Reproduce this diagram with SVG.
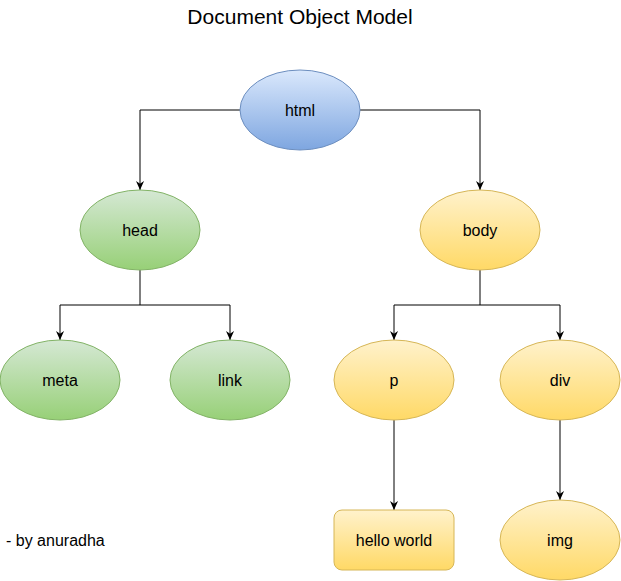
<svg xmlns="http://www.w3.org/2000/svg" width="621" height="581" viewBox="0 0 621 581">
<style>
text{font-family:"Liberation Sans",Arial,sans-serif;fill:#000;}
.lbl{font-size:16px;text-anchor:middle;dominant-baseline:central;}
.blue{fill:url(#gb);stroke:#6c8ebf;stroke-width:1;}
.green{fill:url(#gg);stroke:#82b366;stroke-width:1;}
.yellow{fill:url(#gy);stroke:#d6b656;stroke-width:1;}
.edge{fill:none;stroke:#000;stroke-width:1;}
</style>
<defs>
<linearGradient id="gb" x1="0" y1="0" x2="0" y2="1"><stop offset="0" stop-color="#dae8fc"/><stop offset="1" stop-color="#7ea6e0"/></linearGradient>
<linearGradient id="gg" x1="0" y1="0" x2="0" y2="1"><stop offset="0" stop-color="#d5e8d4"/><stop offset="1" stop-color="#97d077"/></linearGradient>
<linearGradient id="gy" x1="0" y1="0" x2="0" y2="1"><stop offset="0" stop-color="#fff2cc"/><stop offset="1" stop-color="#ffd966"/></linearGradient>
<marker id="arr" viewBox="0 0 10 10" refX="10" refY="5" markerWidth="9" markerHeight="9" markerUnits="userSpaceOnUse" orient="auto"><path d="M0,0.5 L10,5 L0,9.5 L3,5 Z" fill="#000"/></marker>
</defs>
<text x="300" y="16" font-size="21" text-anchor="middle" dominant-baseline="central">Document Object Model</text>
<g id="connectors">
<path class="edge" d="M240,110 H140 V190" marker-end="url(#arr)"/>
<path class="edge" d="M360,110 H480 V190" marker-end="url(#arr)"/>
<path class="edge" d="M140,270 V305 H60 V340" marker-end="url(#arr)"/>
<path class="edge" d="M140,305 H230 V340" marker-end="url(#arr)"/>
<path class="edge" d="M480,270 V305 H394 V340" marker-end="url(#arr)"/>
<path class="edge" d="M480,305 H560 V340" marker-end="url(#arr)"/>
<path class="edge" d="M394,420 V510" marker-end="url(#arr)"/>
<path class="edge" d="M560,420 V500" marker-end="url(#arr)"/>
</g>
<g id="html"><ellipse class="blue" cx="300" cy="110" rx="60" ry="40"/><text class="lbl" x="300" y="110">html</text></g>
<g id="head"><ellipse class="green" cx="140" cy="230" rx="60" ry="40"/><text class="lbl" x="140" y="230">head</text></g>
<g id="body"><ellipse class="yellow" cx="480" cy="230" rx="60" ry="40"/><text class="lbl" x="480" y="230">body</text></g>
<g id="meta"><ellipse class="green" cx="60" cy="380" rx="60" ry="40"/><text class="lbl" x="60" y="380">meta</text></g>
<g id="link"><ellipse class="green" cx="230" cy="380" rx="60" ry="40"/><text class="lbl" x="230" y="380">link</text></g>
<g id="p"><ellipse class="yellow" cx="394" cy="380" rx="60" ry="40"/><text class="lbl" x="394" y="380">p</text></g>
<g id="div"><ellipse class="yellow" cx="560" cy="380" rx="60" ry="40"/><text class="lbl" x="560" y="380">div</text></g>
<g id="hello-world"><rect class="yellow" x="334" y="510" width="120" height="60" rx="8" ry="8"/><text class="lbl" x="394" y="540">hello world</text></g>
<g id="img"><ellipse class="yellow" cx="560" cy="540" rx="60" ry="40"/><text class="lbl" x="560" y="540">img</text></g>
<text x="6" y="540" font-size="16" dominant-baseline="central">- by anuradha</text>
</svg>
